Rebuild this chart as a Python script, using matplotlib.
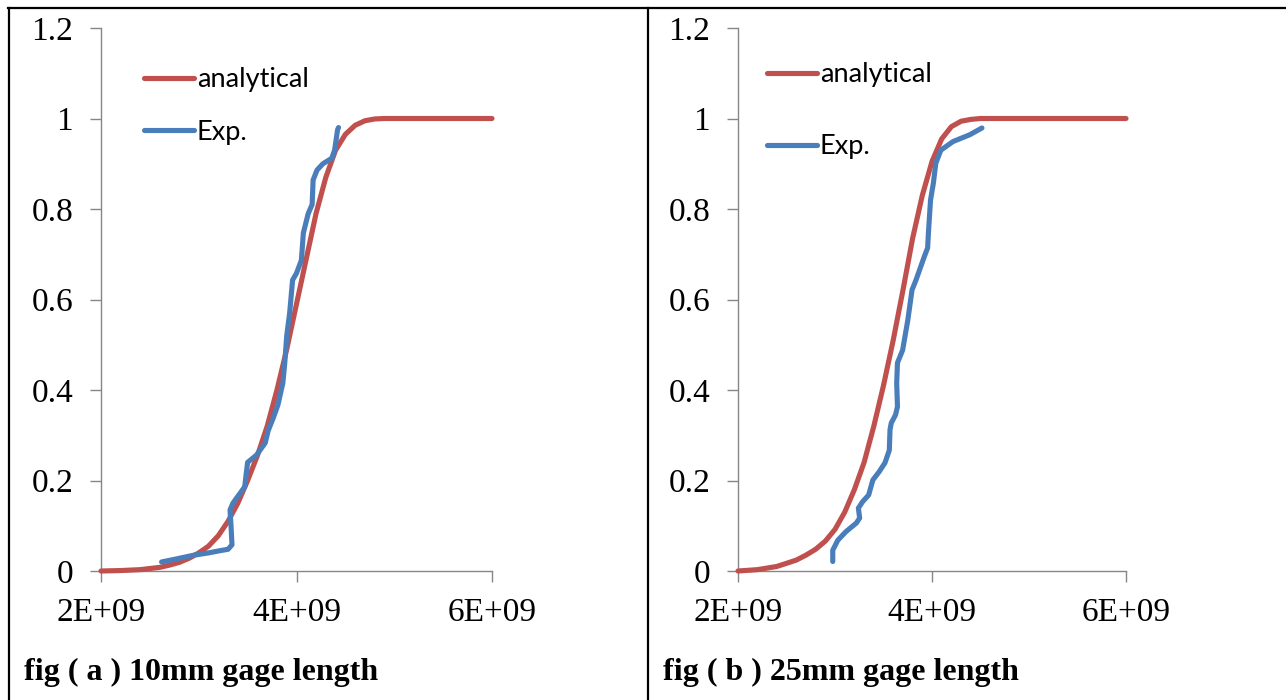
import numpy as np
import matplotlib.pyplot as plt
from matplotlib.lines import Line2D

# panel (a): 10mm gage length
a_ana_x = [2.0, 2.2, 2.4, 2.6, 2.7, 2.8, 2.9, 3.0, 3.1, 3.2, 3.3, 3.4, 3.5, 3.6, 3.7,
           3.8, 3.9, 4.0, 4.1, 4.2, 4.3, 4.4, 4.5, 4.6, 4.7, 4.8, 4.9, 5.0, 5.5, 6.0]
a_ana_y = [0.0, 0.001, 0.003, 0.008, 0.013, 0.019, 0.028, 0.040, 0.055, 0.078, 0.11,
           0.15, 0.20, 0.255, 0.32, 0.40, 0.49, 0.59, 0.69, 0.79, 0.87, 0.93, 0.965,
           0.985, 0.995, 0.999, 1.0, 1.0, 1.0, 1.0]
a_exp_x = [2.62, 2.80, 2.95, 3.10, 3.22, 3.30, 3.34, 3.33, 3.32, 3.35, 3.40, 3.47, 3.49,
           3.50, 3.59, 3.68, 3.71, 3.76, 3.81, 3.86, 3.88, 3.90, 3.93, 3.96, 4.00, 4.05,
           4.07, 4.12, 4.16, 4.17, 4.21, 4.27, 4.36, 4.39, 4.42, 4.43]
a_exp_y = [0.020, 0.028, 0.035, 0.040, 0.045, 0.048, 0.058, 0.10, 0.135, 0.15, 0.165,
           0.186, 0.223, 0.240, 0.256, 0.283, 0.310, 0.337, 0.367, 0.415, 0.46, 0.52,
           0.57, 0.643, 0.658, 0.687, 0.747, 0.79, 0.81, 0.864, 0.886, 0.90, 0.912, 0.93,
           0.975, 0.98]

# panel (b): 25mm gage length
b_ana_x = [2.0, 2.2, 2.4, 2.6, 2.7, 2.8, 2.9, 3.0, 3.1, 3.2, 3.3, 3.4, 3.5, 3.6, 3.7,
           3.8, 3.9, 4.0, 4.1, 4.2, 4.3, 4.4, 4.5, 5.0, 6.0]
b_ana_y = [0.0, 0.003, 0.010, 0.024, 0.035, 0.048, 0.066, 0.092, 0.13, 0.18, 0.24, 0.32,
           0.41, 0.51, 0.62, 0.735, 0.83, 0.905, 0.955, 0.982, 0.994, 0.998, 1.0, 1.0, 1.0]
b_exp_x = [2.977, 2.977, 3.029, 3.113, 3.220, 3.254, 3.241, 3.284, 3.347, 3.390, 3.454,
           3.515, 3.560, 3.567, 3.580, 3.624, 3.644, 3.636, 3.644, 3.697, 3.751, 3.794,
           3.835, 3.921, 3.955, 3.963, 3.985, 4.014, 4.039, 4.091, 4.216, 4.388, 4.515]
b_exp_y = [0.021, 0.046, 0.068, 0.087, 0.106, 0.117, 0.139, 0.153, 0.168, 0.201, 0.219,
           0.239, 0.267, 0.312, 0.327, 0.345, 0.363, 0.415, 0.46, 0.488, 0.555, 0.621,
           0.643, 0.695, 0.714, 0.747, 0.82, 0.857, 0.901, 0.93, 0.949, 0.964, 0.979]

x_ticks = [2e9, 4e9, 6e9]
x_ticklabels = ['2E+09', '4E+09', '6E+09']
y_ticks = [0, 0.2, 0.4, 0.6, 0.8, 1.0, 1.2]
y_ticklabels = ['0', '0.2', '0.4', '0.6', '0.8', '1', '1.2']
captions = ['fig ( a ) 10mm gage length', 'fig ( b ) 25mm gage length']

RED = '#C0504D'
BLUE = '#4A7EBB'
GREY = '#868686'
W, H = 1286, 700
LW = 3.7

fig = plt.figure(figsize=(W / 100, H / 100), dpi=100)


def px_axes(x0, y0, x1, y1):
    # axes placed by pixel box (top-left origin)
    return fig.add_axes([x0 / W, 1 - y1 / H, (x1 - x0) / W, (y1 - y0) / H])


def panel(ax, ana_x, ana_y, exp_x, exp_y, leg_anchor, leg_space):
    ax.plot(np.array(ana_x) * 1e9, ana_y, color=RED, lw=LW, solid_capstyle='round',
            solid_joinstyle='round', clip_on=False, zorder=3)
    ax.plot(np.array(exp_x) * 1e9, exp_y, color=BLUE, lw=LW, solid_capstyle='round',
            solid_joinstyle='round', clip_on=False, zorder=4)
    ax.set_xlim(2e9, 6e9)
    ax.set_ylim(0, 1.2)
    ax.set_xticks(x_ticks)
    ax.set_xticklabels(x_ticklabels)
    ax.set_yticks(y_ticks)
    ax.set_yticklabels(y_ticklabels)
    for s in ['top', 'right']:
        ax.spines[s].set_visible(False)
    for s in ['left', 'bottom']:
        ax.spines[s].set_color(GREY)
        ax.spines[s].set_linewidth(1.0)
    ax.tick_params(axis='both', direction='out', length=8, width=1.0, color=GREY,
                   labelsize=24)
    ax.tick_params(axis='y', pad=12)
    ax.tick_params(axis='x', pad=11)
    for lab in ax.get_xticklabels() + ax.get_yticklabels():
        lab.set_family('Liberation Serif')
    handles = [Line2D([], [], color=RED, lw=LW, solid_capstyle='round'),
               Line2D([], [], color=BLUE, lw=LW, solid_capstyle='round')]
    ax.legend(handles, ['analytical', 'Exp.'], loc='upper left',
              bbox_to_anchor=(leg_anchor[0] / W, 1 - leg_anchor[1] / H),
              bbox_transform=fig.transFigure, frameon=False,
              prop={'family': 'Lato', 'size': 19.5}, handlelength=1.85,
              handletextpad=0.1, labelspacing=leg_space, borderpad=0,
              borderaxespad=0)


ax_a = px_axes(101, 28, 492, 571)
ax_b = px_axes(738, 28, 1126, 571)
panel(ax_a, a_ana_x, a_ana_y, a_exp_x, a_exp_y, (144, 67), 1.03)
panel(ax_b, b_ana_x, b_ana_y, b_exp_x, b_exp_y, (767, 62), 1.75)

fig.text(24 / W, 1 - 680 / H, captions[0], family='Liberation Serif',
         weight='bold', size=23, ha='left', va='baseline')
fig.text(663 / W, 1 - 680 / H, captions[1], family='Liberation Serif',
         weight='bold', size=23, ha='left', va='baseline')

# table frame
frame = dict(color='black', lw=1.6, transform=fig.transFigure, clip_on=False)
fig.add_artist(Line2D([8 / W, 1], [1 - 7.5 / H, 1 - 7.5 / H], **frame))
fig.add_artist(Line2D([9 / W, 9 / W], [0, 1 - 7.5 / H], **frame))
fig.add_artist(Line2D([648 / W, 648 / W], [0, 1 - 7.5 / H], **frame))

fig.savefig('out.png', dpi=100)
